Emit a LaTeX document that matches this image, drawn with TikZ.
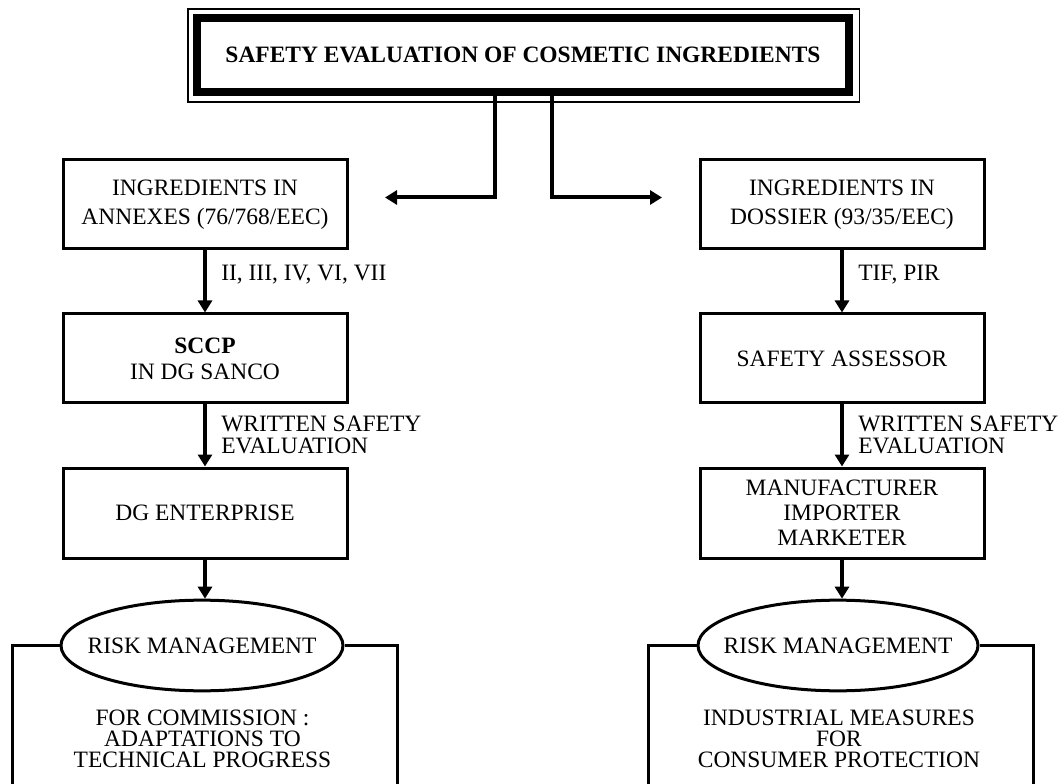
\documentclass[tikz,border=0pt]{standalone}
\usepackage{fontspec}
\setmainfont{Liberation Serif}
\usetikzlibrary{arrows.meta,shapes.geometric}
\begin{document}
\begin{tikzpicture}[x=0.75pt,y=-0.75pt,
  font=\fontsize{17.6}{21}\selectfont,
  box/.style={draw,line width=2.25pt,minimum width=213pt,minimum height=66.75pt,align=center,inner sep=0pt},
  oval/.style={ellipse,draw,line width=2.25pt,minimum height=68pt,inner xsep=-16pt,inner ysep=0pt},
  arr/.style={line width=3pt,-{Triangle[length=9pt,width=10.5pt]}},
  conn/.style={line width=2.25pt},
  lbl/.style={inner sep=0pt,align=left,anchor=west},
  body/.style={inner sep=0pt,align=center}]

\useasboundingbox (0,0) rectangle (1061,784);

% title
\node[draw,line width=6pt,minimum width=489pt,minimum height=55.5pt,inner sep=0pt,
      font=\fontsize{17.6}{21}\selectfont\bfseries] (t) at (523,55) {SAFETY EVALUATION OF COSMETIC INGREDIENTS};
\draw[line width=0.9pt] ([shift={(-5,-5)}]t.north west) rectangle ([shift={(6.5,6)}]t.south east);

% left column
\node[box,font=\fontsize{17.6}{21.75}\selectfont] (a1) at (205,204.5) {INGREDIENTS IN\\ANNEXES (76/768/EEC)};
\node[box,font=\fontsize{17.6}{19.5}\selectfont] (a2) at (205,358.5) {\textbf{SCCP}\\IN DG SANCO};
\node[box,minimum height=67.5pt] (a3) at (205,513) {DG ENTERPRISE};
\node[oval,minimum width=211.5pt] (e1) at (202,645.5) {RISK MANAGEMENT};
\node[body,font=\fontsize{17.6}{15.75}\selectfont] (c1) at (202.5,739) {FOR COMMISSION :\\ADAPTATIONS TO\\TECHNICAL PROGRESS};

% right column
\node[box,font=\fontsize{17.6}{21.75}\selectfont] (b1) at (842,204.5) {INGREDIENTS IN\\DOSSIER (93/35/EEC)};
\node[box] (b2) at (842,358.5) {SAFETY ASSESSOR};
\node[box,minimum height=67.5pt,font=\fontsize{17.6}{18.75}\selectfont] (b3) at (842,513) {MANUFACTURER\\IMPORTER\\MARKETER};
\node[oval,minimum width=210pt] (e2) at (838,645.5) {RISK MANAGEMENT};
\node[body,font=\fontsize{17.6}{15.75}\selectfont] (c2) at (839,738.5) {INDUSTRIAL MEASURES\\FOR\\CONSUMER PROTECTION};

% labels
\node[lbl] (l1) at (221,275) {II, III, IV, VI, VII};
\node[lbl] (l2) at (858,275) {TIF, PIR};
\node[lbl,font=\fontsize{17.6}{16.5}\selectfont] (l3) at (221,435) {WRITTEN SAFETY\\EVALUATION};
\node[lbl,font=\fontsize{17.6}{16.5}\selectfont] (l4) at (858,435) {WRITTEN SAFETY\\EVALUATION};

% top connectors
\coordinate (ts1) at (495,96);
\coordinate (tip1) at (385,197.5);
\coordinate (ts2) at (552,96);
\coordinate (tip2) at (662,197.5);
\draw[arr] (ts1) |- (tip1);
\draw[arr] (ts2) |- (tip2);

% vertical arrows
\draw[arr] (a1) -- (a2);
\draw[arr] (a2) -- (a3);
\draw[arr] (a3.south) -- (a3.south |- e1.north);
\draw[arr] (b1) -- (b2);
\draw[arr] (b2) -- (b3);
\draw[arr] (b3.south) -- (b3.south |- e2.north);

% brackets
\coordinate (lb1) at (12,790);
\coordinate (rb1) at (397,790);
\coordinate (lb2) at (648,790);
\coordinate (rb2) at (1033,790);
\draw[conn] (e1.west) -| (lb1);
\draw[conn] (e1.east) -| (rb1);
\draw[conn] (e2.west) -| (lb2);
\draw[conn] (e2.east) -| (rb2);
\end{tikzpicture}
\end{document}
